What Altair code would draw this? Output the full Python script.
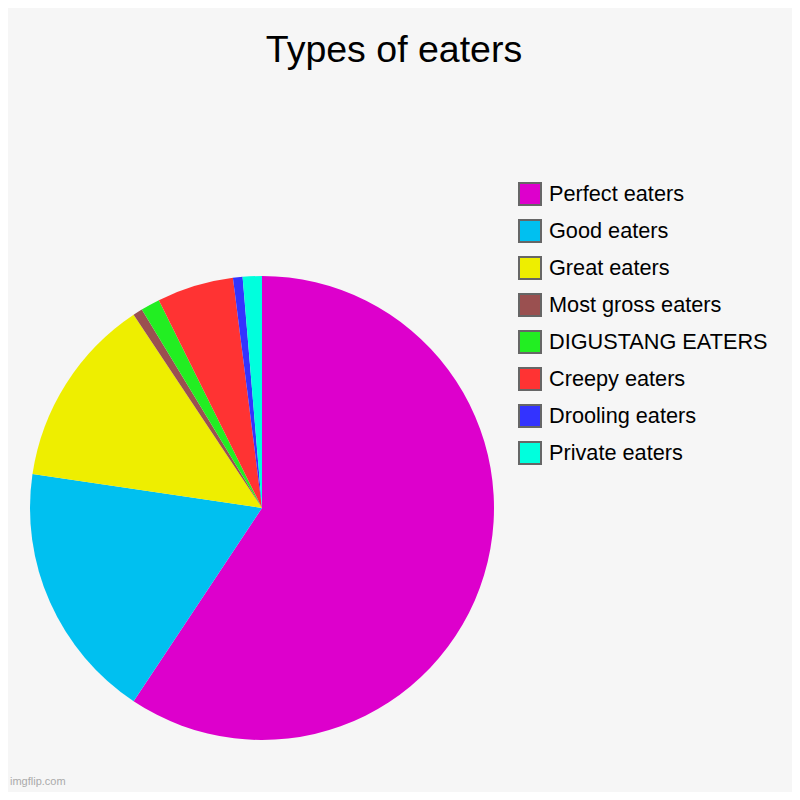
import altair as alt
import pandas as pd

title_text = "Types of eaters"
watermark = "imgflip.com"
categories = ["Perfect eaters", "Good eaters", "Great eaters", "Most gross eaters",
              "DIGUSTANG EATERS", "Creepy eaters", "Drooling eaters", "Private eaters"]
values = [89, 27, 20, 1, 2, 8, 1, 2]
colors = ["#DD00CC", "#00C0F0", "#EEEE00", "#9A5050", "#22EE22", "#FF3333", "#3333FF", "#00FFDD"]

df = pd.DataFrame({"category": categories, "value": values, "order": list(range(len(categories)))})

FONT = "Liberation Sans"

pie = alt.Chart(df).mark_arc(outerRadius=232, strokeWidth=0).encode(
    theta=alt.Theta("value:Q", stack=True),
    color=alt.Color(
        "category:N",
        sort=categories,
        scale=alt.Scale(domain=categories, range=colors),
        legend=alt.Legend(
            title=None, orient="none", legendX=510, legendY=174,
            symbolType="square", symbolSize=484, symbolStrokeColor="#666666",
            symbolStrokeWidth=2, symbolOpacity=1,
            labelFont=FONT, labelFontSize=21.7, labelColor="#000000",
            labelOffset=7, rowPadding=7, padding=0, labelLimit=400,
        ),
    ),
    order=alt.Order("order:Q"),
    x=alt.value(254),
    y=alt.value(500),
)

title = alt.Chart(pd.DataFrame({"t": [title_text]})).mark_text(
    font=FONT, fontSize=37.5, color="#000000", baseline="alphabetic", align="center"
).encode(text="t:N", x=alt.value(386), y=alt.value(54))

wm = alt.Chart(pd.DataFrame({"t": [watermark]})).mark_text(
    font=FONT, fontSize=11, color="#AAAAAA", baseline="middle", align="left"
).encode(text="t:N", x=alt.value(2), y=alt.value(774))

chart = alt.layer(pie, title, wm).properties(
    width=784, height=784, autosize="none", padding=0, background="#F6F6F6"
).configure_view(stroke=None)

chart.save("out.html", embed_options={"renderer": "svg", "actions": False})
